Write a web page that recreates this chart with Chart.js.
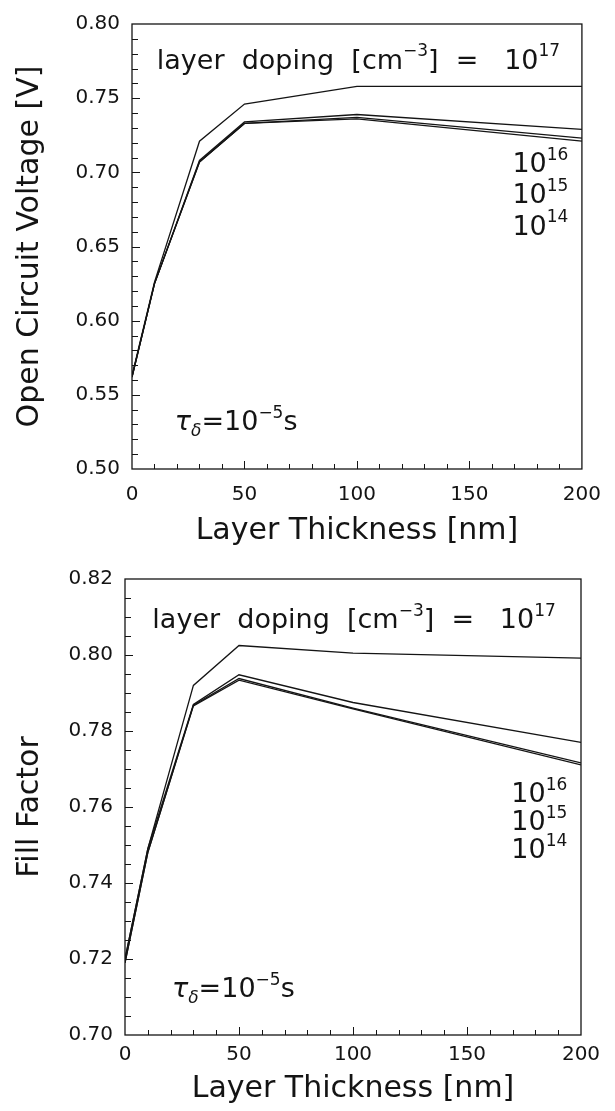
<!DOCTYPE html>
<html>
<head>
<meta charset="utf-8">
<script src="https://cdn.jsdelivr.net/npm/chart.js@4.4.1/dist/chart.umd.min.js"></script>
<style>
  html, body { margin: 0; padding: 0; background: #fff; }
  #wrap { width: 615px; height: 1111px; }
  canvas { display: block; }
</style>
</head>
<body>
<div id="wrap">
  <canvas id="vocChart" width="615" height="555"></canvas>
  <canvas id="ffChart" width="615" height="556"></canvas>
</div>
<script>
/* ---------- data ---------- */

// layer thickness [nm]
const thickness = [0, 10, 30, 50, 100, 200];

// open circuit voltage [V], one list per layer doping
const voc17 = [0.563, 0.626, 0.721, 0.746, 0.758, 0.758];
const voc16 = [0.562, 0.625, 0.708, 0.734, 0.739, 0.729];
const voc15 = [0.562, 0.625, 0.707, 0.733, 0.737, 0.723];
const voc14 = [0.562, 0.625, 0.707, 0.733, 0.736, 0.721];

// fill factor, one list per layer doping
const ff17 = [0.720, 0.749, 0.792, 0.8025, 0.8005, 0.7992];
const ff16 = [0.720, 0.749, 0.787, 0.7948, 0.7875, 0.7770];
const ff15 = [0.719, 0.748, 0.7868, 0.7938, 0.7860, 0.7716];
const ff14 = [0.719, 0.748, 0.7866, 0.7934, 0.7858, 0.7711];

// tick labels
const xTicks   = [0, 50, 100, 150, 200];
const vocTicks = [0.50, 0.55, 0.60, 0.65, 0.70, 0.75, 0.80];
const ffTicks  = [0.70, 0.72, 0.74, 0.76, 0.78, 0.80, 0.82];

const FONT = "'DejaVu Sans', sans-serif";
const INK = '#141414';

// ---------- helpers ----------

function pairs(ys) {
  return thickness.map(function (x, i) { return { x: x, y: ys[i] }; });
}

function lineSet(label, ys) {
  return {
    label: label,
    data: pairs(ys),
    borderColor: INK,
    borderWidth: 1.3,
    pointRadius: 0,
    tension: 0,
    fill: false,
  };
}

/** text with super/subscripts: parts = [{t, sup, sub, it}] */
function drawRich(ctx, parts, x, y, align, size) {
  const small = Math.round(size * 0.64);
  function fontOf(p) {
    return (p.it ? 'italic ' : '') + ((p.sup || p.sub) ? small : size) + 'px ' + FONT;
  }
  let total = 0;
  parts.forEach(function (p) { ctx.font = fontOf(p); total += ctx.measureText(p.t).width; });
  let cx = align === 'right' ? x - total : x;
  ctx.textAlign = 'left';
  ctx.textBaseline = 'alphabetic';
  parts.forEach(function (p) {
    ctx.font = fontOf(p);
    let dy = 0;
    if (p.sup) dy = -size * 0.45;
    if (p.sub) dy = size * 0.22;
    ctx.fillText(p.t, cx, y + dy);
    cx += ctx.measureText(p.t).width;
  });
}

// frame, inward ticks and in-plot notes
const framePlugin = {
  id: 'frame',
  afterDatasetsDraw(chart, args, opts) {
    const ctx = chart.ctx;
    const a = chart.chartArea;
    const xs = chart.scales.x, ys = chart.scales.y;
    ctx.save();
    ctx.strokeStyle = INK;
    ctx.lineWidth = 1.3;
    ctx.strokeRect(a.left, a.top, a.right - a.left, a.bottom - a.top);

    ctx.lineWidth = 1;
    ctx.beginPath();
    // x ticks along bottom
    const nx = Math.round((xs.max - xs.min) / opts.xMinor);
    for (let i = 1; i < nx; i++) {
      const v = xs.min + i * opts.xMinor;
      const px = Math.round(xs.getPixelForValue(v)) + 0.5;
      const major = Math.abs(v / opts.xMajor - Math.round(v / opts.xMajor)) < 1e-6;
      ctx.moveTo(px, a.bottom);
      ctx.lineTo(px, a.bottom - (major ? 8 : 5));
    }
    // y ticks along left
    const ny = Math.round((ys.max - ys.min) / opts.yMinor);
    for (let j = 1; j < ny; j++) {
      const v = ys.min + j * opts.yMinor;
      const py = Math.round(ys.getPixelForValue(v)) + 0.5;
      const k = (v - ys.min) / opts.yMajor;
      const major = Math.abs(k - Math.round(k)) < 1e-6;
      ctx.moveTo(a.left, py);
      ctx.lineTo(a.left + (major ? 8 : 6), py);
    }
    ctx.stroke();

    ctx.fillStyle = INK;
    opts.notes.forEach(function (n) {
      drawRich(ctx, n.parts, xs.getPixelForValue(n.x), ys.getPixelForValue(n.y), n.align || 'left', 27);
    });
    ctx.restore();
  },
};

function dopingNote(x, y) {
  return {
    x: x, y: y,
    parts: [
      { t: 'layer  doping  [cm' }, { t: '\u22123', sup: true },
      { t: ']  =   10' }, { t: '17', sup: true },
    ],
  };
}
function expNote(exp, y) {
  return { x: 194, y: y, align: 'right', parts: [{ t: '10' }, { t: exp, sup: true }] };
}
function tauNote(x, y) {
  return {
    x: x, y: y,
    parts: [
      { t: '\u03C4', it: true }, { t: '\u03B4', sub: true, it: true },
      { t: '=10' }, { t: '\u22125', sup: true }, { t: 's' },
    ],
  };
}

function makeChart(id, cfg) {
  return new Chart(document.getElementById(id), {
    type: 'line',
    data: {
      datasets: [
        lineSet('10^17', cfg.s17),
        lineSet('10^16', cfg.s16),
        lineSet('10^15', cfg.s15),
        lineSet('10^14', cfg.s14),
      ],
    },
    options: {
      responsive: false,
      animation: false,
      devicePixelRatio: 1,
      layout: { padding: { top: cfg.padTop, right: cfg.padRight, left: 0, bottom: 0 } },
      plugins: {
        legend: { display: false },
        tooltip: { enabled: false },
        frame: { xMinor: 10, xMajor: 50, yMinor: cfg.yMinor, yMajor: cfg.yMajor, notes: cfg.notes },
      },
      scales: {
        x: {
          type: 'linear',
          min: 0, max: 200,
          afterBuildTicks: function (s) { s.ticks = xTicks.map(function (v) { return { value: v }; }); },
          afterFit: function (s) { s.height = cfg.xHeight; },
          grid: { display: false, drawTicks: false },
          border: { display: false },
          ticks: { color: INK, font: { family: FONT, size: 20 }, padding: cfg.xPad, maxRotation: 0 },
          title: {
            display: true, text: 'Layer Thickness [nm]', color: INK,
            font: { family: FONT, size: 30 }, padding: { top: 0, bottom: cfg.xTitlePad },
          },
        },
        y: {
          type: 'linear',
          min: cfg.yMin, max: cfg.yMax,
          afterBuildTicks: function (s) { s.ticks = cfg.yTicks.map(function (v) { return { value: v }; }); },
          afterFit: function (s) { s.width = cfg.yWidth; },
          grid: { display: false, drawTicks: false },
          border: { display: false },
          ticks: {
            color: INK, font: { family: FONT, size: 20 }, padding: 12,
            callback: function (v) { return Number(v).toFixed(2); },
          },
          title: {
            display: true, text: cfg.yTitle, color: INK,
            font: { family: FONT, size: 30 }, padding: { top: 12, bottom: 0 },
          },
        },
      },
    },
    plugins: [framePlugin],
  });
}

// ---------- top: open circuit voltage ----------
makeChart('vocChart', {
  s17: voc17, s16: voc16, s15: voc15, s14: voc14,
  yMin: 0.50, yMax: 0.80, yTicks: vocTicks, yMinor: 0.01, yMajor: 0.05,
  yTitle: 'Open Circuit Voltage [V]',
  padTop: 17, padRight: 29, yWidth: 132, xHeight: 86, xPad: 14, xTitlePad: 6,
  notes: [
    dopingNote(11, 0.770),
    expNote('16', 0.700), expNote('15', 0.679), expNote('14', 0.658),
    tauNote(19, 0.5265),
  ],
});

// ---------- bottom: fill factor ----------
makeChart('ffChart', {
  s17: ff17, s16: ff16, s15: ff15, s14: ff14,
  yMin: 0.70, yMax: 0.82, yTicks: ffTicks, yMinor: 0.005, yMajor: 0.02,
  yTitle: 'Fill Factor',
  padTop: 24, padRight: 34, yWidth: 125, xHeight: 76, xPad: 8, xTitlePad: 4,
  notes: [
    dopingNote(12, 0.807),
    expNote('16', 0.7613), expNote('15', 0.754), expNote('14', 0.7466),
    tauNote(20.6, 0.710),
  ],
});
</script>
</body>
</html>
